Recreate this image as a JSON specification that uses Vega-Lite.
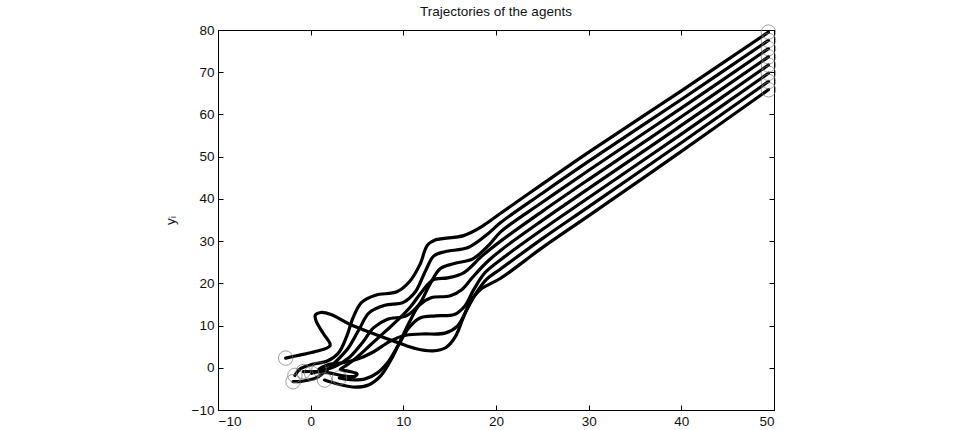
{
  "$schema": "https://vega.github.io/schema/vega-lite/v6.json",
  "width": 556,
  "height": 380,
  "autosize": "none",
  "padding": {"left": 218, "top": 30, "right": 185, "bottom": 20},
  "background": "white",
  "config": {
    "font": "Liberation Sans",
    "view": {"stroke": "black", "strokeWidth": 1},
    "axis": {"grid": false, "domainColor": "black", "tickColor": "black", "labelColor": "#111", "labelFontSize": 13.5, "labelFont": "Liberation Sans", "titleFont": "Liberation Sans", "titleFontWeight": "normal", "titleFontSize": 13.5, "titleColor": "#111", "tickSize": -5, "labelPadding": 9}
  },
  "title": {"text": "Trajectories of the agents", "fontSize": 13.5, "fontWeight": "normal", "font": "Liberation Sans", "color": "#111", "offset": 4},
  "data": {"values": [
    {"agent": 1, "step": 0, "x": -1.7, "y": -1.8},
    {"agent": 1, "step": 1, "x": -1.1, "y": -0.2},
    {"agent": 1, "step": 2, "x": 0.2, "y": 0.8},
    {"agent": 1, "step": 3, "x": 1.8, "y": 1.6},
    {"agent": 1, "step": 4, "x": 3.0, "y": 3.5},
    {"agent": 1, "step": 5, "x": 3.9, "y": 7.5},
    {"agent": 1, "step": 6, "x": 4.6, "y": 12.0},
    {"agent": 1, "step": 7, "x": 5.5, "y": 15.5},
    {"agent": 1, "step": 8, "x": 7.0, "y": 17.2},
    {"agent": 1, "step": 9, "x": 9.3, "y": 18.0},
    {"agent": 1, "step": 10, "x": 10.7, "y": 20.5},
    {"agent": 1, "step": 11, "x": 11.8, "y": 24.5},
    {"agent": 1, "step": 12, "x": 12.6, "y": 29.0},
    {"agent": 1, "step": 13, "x": 13.5, "y": 30.3},
    {"agent": 1, "step": 14, "x": 16.5, "y": 31.3},
    {"agent": 1, "step": 15, "x": 18.5, "y": 33.5},
    {"agent": 1, "step": 16, "x": 20.5, "y": 36.6},
    {"agent": 1, "step": 17, "x": 25.0, "y": 43.5},
    {"agent": 1, "step": 18, "x": 30.1, "y": 51.2},
    {"agent": 1, "step": 19, "x": 40.0, "y": 65.6},
    {"agent": 1, "step": 20, "x": 49.4, "y": 79.5},

    {"agent": 2, "step": 0, "x": -1.9, "y": -3.3},
    {"agent": 2, "step": 1, "x": -1.0, "y": -3.2},
    {"agent": 2, "step": 2, "x": 0.5, "y": -2.5},
    {"agent": 2, "step": 3, "x": 1.5, "y": -1.0},
    {"agent": 2, "step": 4, "x": 2.5, "y": 1.0},
    {"agent": 2, "step": 5, "x": 4.0, "y": 4.5},
    {"agent": 2, "step": 6, "x": 5.2, "y": 9.0},
    {"agent": 2, "step": 7, "x": 6.3, "y": 13.0},
    {"agent": 2, "step": 8, "x": 8.0, "y": 14.8},
    {"agent": 2, "step": 9, "x": 10.0, "y": 15.5},
    {"agent": 2, "step": 10, "x": 11.3, "y": 18.0},
    {"agent": 2, "step": 11, "x": 12.4, "y": 23.0},
    {"agent": 2, "step": 12, "x": 13.3, "y": 26.5},
    {"agent": 2, "step": 13, "x": 14.5, "y": 27.5},
    {"agent": 2, "step": 14, "x": 17.0, "y": 28.5},
    {"agent": 2, "step": 15, "x": 19.0, "y": 31.5},
    {"agent": 2, "step": 16, "x": 20.5, "y": 34.4},
    {"agent": 2, "step": 17, "x": 25.0, "y": 41.35},
    {"agent": 2, "step": 18, "x": 30.1, "y": 49.05},
    {"agent": 2, "step": 19, "x": 40.0, "y": 63.55},
    {"agent": 2, "step": 20, "x": 49.4, "y": 77.55},

    {"agent": 3, "step": 0, "x": 0.1, "y": -1.3},
    {"agent": 3, "step": 1, "x": 1.2, "y": -0.6},
    {"agent": 3, "step": 2, "x": 2.6, "y": 0.3},
    {"agent": 3, "step": 3, "x": 4.2, "y": 2.5},
    {"agent": 3, "step": 4, "x": 5.6, "y": 6.0},
    {"agent": 3, "step": 5, "x": 6.8, "y": 9.5},
    {"agent": 3, "step": 6, "x": 8.3, "y": 11.5},
    {"agent": 3, "step": 7, "x": 10.3, "y": 12.3},
    {"agent": 3, "step": 8, "x": 11.7, "y": 15.0},
    {"agent": 3, "step": 9, "x": 12.8, "y": 19.5},
    {"agent": 3, "step": 10, "x": 14.0, "y": 23.5},
    {"agent": 3, "step": 11, "x": 15.5, "y": 24.7},
    {"agent": 3, "step": 12, "x": 17.5, "y": 25.8},
    {"agent": 3, "step": 13, "x": 19.2, "y": 29.0},
    {"agent": 3, "step": 14, "x": 20.5, "y": 32.2},
    {"agent": 3, "step": 15, "x": 25.0, "y": 39.2},
    {"agent": 3, "step": 16, "x": 30.1, "y": 46.9},
    {"agent": 3, "step": 17, "x": 40.0, "y": 61.5},
    {"agent": 3, "step": 18, "x": 49.4, "y": 75.6},

    {"agent": 4, "step": 0, "x": -0.8, "y": -0.9},
    {"agent": 4, "step": 1, "x": 0.5, "y": -0.9},
    {"agent": 4, "step": 2, "x": 2.0, "y": -1.2},
    {"agent": 4, "step": 3, "x": 3.5, "y": -1.9},
    {"agent": 4, "step": 4, "x": 4.8, "y": -2.0},
    {"agent": 4, "step": 5, "x": 5.0, "y": -1.4},
    {"agent": 4, "step": 6, "x": 4.0, "y": -0.8},
    {"agent": 4, "step": 7, "x": 3.2, "y": -0.4},
    {"agent": 4, "step": 8, "x": 3.8, "y": 0.5},
    {"agent": 4, "step": 9, "x": 5.0, "y": 2.5},
    {"agent": 4, "step": 10, "x": 6.5, "y": 5.5},
    {"agent": 4, "step": 11, "x": 8.0, "y": 8.5},
    {"agent": 4, "step": 12, "x": 9.5, "y": 11.5},
    {"agent": 4, "step": 13, "x": 10.8, "y": 14.5},
    {"agent": 4, "step": 14, "x": 12.0, "y": 18.0},
    {"agent": 4, "step": 15, "x": 13.2, "y": 20.8},
    {"agent": 4, "step": 16, "x": 14.8, "y": 21.3},
    {"agent": 4, "step": 17, "x": 16.5, "y": 22.5},
    {"agent": 4, "step": 18, "x": 18.5, "y": 26.5},
    {"agent": 4, "step": 19, "x": 20.5, "y": 30.0},
    {"agent": 4, "step": 20, "x": 25.0, "y": 37.05},
    {"agent": 4, "step": 21, "x": 30.1, "y": 44.75},
    {"agent": 4, "step": 22, "x": 40.0, "y": 59.45},
    {"agent": 4, "step": 23, "x": 49.4, "y": 73.65},

    {"agent": 5, "step": 0, "x": 1.5, "y": -2.9},
    {"agent": 5, "step": 1, "x": 3.0, "y": -3.9},
    {"agent": 5, "step": 2, "x": 4.8, "y": -4.6},
    {"agent": 5, "step": 3, "x": 6.3, "y": -4.0},
    {"agent": 5, "step": 4, "x": 7.6, "y": -1.8},
    {"agent": 5, "step": 5, "x": 8.7, "y": 2.0},
    {"agent": 5, "step": 6, "x": 9.7, "y": 6.5},
    {"agent": 5, "step": 7, "x": 10.7, "y": 11.0},
    {"agent": 5, "step": 8, "x": 11.7, "y": 14.8},
    {"agent": 5, "step": 9, "x": 13.0, "y": 16.6},
    {"agent": 5, "step": 10, "x": 15.0, "y": 17.0},
    {"agent": 5, "step": 11, "x": 16.3, "y": 18.5},
    {"agent": 5, "step": 12, "x": 17.5, "y": 21.5},
    {"agent": 5, "step": 13, "x": 19.0, "y": 25.0},
    {"agent": 5, "step": 14, "x": 20.5, "y": 27.8},
    {"agent": 5, "step": 15, "x": 25.0, "y": 34.9},
    {"agent": 5, "step": 16, "x": 30.1, "y": 42.6},
    {"agent": 5, "step": 17, "x": 40.0, "y": 57.4},
    {"agent": 5, "step": 18, "x": 49.4, "y": 71.7},

    {"agent": 6, "step": 0, "x": 3.1, "y": -2.4},
    {"agent": 6, "step": 1, "x": 4.3, "y": -2.8},
    {"agent": 6, "step": 2, "x": 5.8, "y": -2.7},
    {"agent": 6, "step": 3, "x": 7.2, "y": -1.2},
    {"agent": 6, "step": 4, "x": 8.4, "y": 1.5},
    {"agent": 6, "step": 5, "x": 9.5, "y": 5.5},
    {"agent": 6, "step": 6, "x": 10.6, "y": 9.5},
    {"agent": 6, "step": 7, "x": 11.8, "y": 11.8},
    {"agent": 6, "step": 8, "x": 13.5, "y": 12.3},
    {"agent": 6, "step": 9, "x": 15.5, "y": 12.6},
    {"agent": 6, "step": 10, "x": 16.6, "y": 14.5},
    {"agent": 6, "step": 11, "x": 17.6, "y": 18.5},
    {"agent": 6, "step": 12, "x": 18.8, "y": 22.5},
    {"agent": 6, "step": 13, "x": 20.5, "y": 25.6},
    {"agent": 6, "step": 14, "x": 25.0, "y": 32.75},
    {"agent": 6, "step": 15, "x": 30.1, "y": 40.45},
    {"agent": 6, "step": 16, "x": 40.0, "y": 55.35},
    {"agent": 6, "step": 17, "x": 49.4, "y": 69.75},

    {"agent": 7, "step": 0, "x": 0.9, "y": -0.3},
    {"agent": 7, "step": 1, "x": 2.0, "y": 0.8},
    {"agent": 7, "step": 2, "x": 3.5, "y": 1.2},
    {"agent": 7, "step": 3, "x": 5.0, "y": 2.0},
    {"agent": 7, "step": 4, "x": 6.8, "y": 3.8},
    {"agent": 7, "step": 5, "x": 8.5, "y": 6.2},
    {"agent": 7, "step": 6, "x": 10.0, "y": 7.6},
    {"agent": 7, "step": 7, "x": 12.0, "y": 8.0},
    {"agent": 7, "step": 8, "x": 14.5, "y": 8.2},
    {"agent": 7, "step": 9, "x": 15.8, "y": 9.8},
    {"agent": 7, "step": 10, "x": 16.8, "y": 13.5},
    {"agent": 7, "step": 11, "x": 17.8, "y": 17.5},
    {"agent": 7, "step": 12, "x": 19.0, "y": 21.0},
    {"agent": 7, "step": 13, "x": 20.5, "y": 23.4},
    {"agent": 7, "step": 14, "x": 25.0, "y": 30.6},
    {"agent": 7, "step": 15, "x": 30.1, "y": 38.3},
    {"agent": 7, "step": 16, "x": 40.0, "y": 53.3},
    {"agent": 7, "step": 17, "x": 49.4, "y": 67.8},

    {"agent": 8, "step": 0, "x": -2.7, "y": 2.3},
    {"agent": 8, "step": 1, "x": -1.2, "y": 3.0},
    {"agent": 8, "step": 2, "x": 0.6, "y": 3.9},
    {"agent": 8, "step": 3, "x": 2.1, "y": 5.3},
    {"agent": 8, "step": 4, "x": 1.4, "y": 8.0},
    {"agent": 8, "step": 5, "x": 0.6, "y": 11.0},
    {"agent": 8, "step": 6, "x": 0.5, "y": 12.5},
    {"agent": 8, "step": 7, "x": 1.1, "y": 13.1},
    {"agent": 8, "step": 8, "x": 2.2, "y": 12.6},
    {"agent": 8, "step": 9, "x": 4.2, "y": 10.3},
    {"agent": 8, "step": 10, "x": 7.0, "y": 7.9},
    {"agent": 8, "step": 11, "x": 9.5, "y": 5.9},
    {"agent": 8, "step": 12, "x": 11.4, "y": 4.5},
    {"agent": 8, "step": 13, "x": 13.2, "y": 4.0},
    {"agent": 8, "step": 14, "x": 14.6, "y": 4.8},
    {"agent": 8, "step": 15, "x": 15.6, "y": 7.3},
    {"agent": 8, "step": 16, "x": 16.4, "y": 11.5},
    {"agent": 8, "step": 17, "x": 17.2, "y": 15.5},
    {"agent": 8, "step": 18, "x": 18.3, "y": 18.5},
    {"agent": 8, "step": 19, "x": 20.5, "y": 21.2},
    {"agent": 8, "step": 20, "x": 25.0, "y": 28.45},
    {"agent": 8, "step": 21, "x": 30.1, "y": 36.15},
    {"agent": 8, "step": 22, "x": 40.0, "y": 51.25},
    {"agent": 8, "step": 23, "x": 49.4, "y": 65.85}
  ]},
  "resolve": {"axis": {"x": "independent", "y": "independent"}},
  "layer": [
    {
      "mark": {"type": "line", "interpolate": "catmull-rom", "color": "black", "strokeWidth": 3.2, "strokeCap": "round", "strokeJoin": "round"},
      "encoding": {
        "x": {"field": "x", "type": "quantitative", "scale": {"domain": [-10, 50], "nice": false, "zero": false}, "axis": {"values": [-10, 0, 10, 20, 30, 40, 50], "title": null}},
        "y": {"field": "y", "type": "quantitative", "scale": {"domain": [-10, 80], "nice": false, "zero": false}, "axis": {"values": [-10, 0, 10, 20, 30, 40, 50, 60, 70, 80], "title": "yᵢ", "titlePadding": 14}},
        "detail": {"field": "agent", "type": "nominal"},
        "order": {"field": "step", "type": "quantitative"}
      }
    },
    {
      "transform": [
        {"joinaggregate": [{"op": "min", "field": "step", "as": "s0"}, {"op": "max", "field": "step", "as": "s1"}], "groupby": ["agent"]},
        {"filter": "datum.step == datum.s0 || datum.step == datum.s1"}
      ],
      "mark": {"type": "point", "shape": "circle", "filled": false, "stroke": "#777", "strokeWidth": 1, "size": 210},
      "encoding": {
        "x": {"field": "x", "type": "quantitative", "scale": {"domain": [-10, 50], "nice": false, "zero": false}, "axis": {"orient": "top", "values": [-10, 0, 10, 20, 30, 40, 50], "labels": false, "title": null, "domain": false}},
        "y": {"field": "y", "type": "quantitative", "scale": {"domain": [-10, 80], "nice": false, "zero": false}, "axis": {"orient": "right", "values": [-10, 0, 10, 20, 30, 40, 50, 60, 70, 80], "labels": false, "title": null, "domain": false}}
      }
    }
  ]
}
